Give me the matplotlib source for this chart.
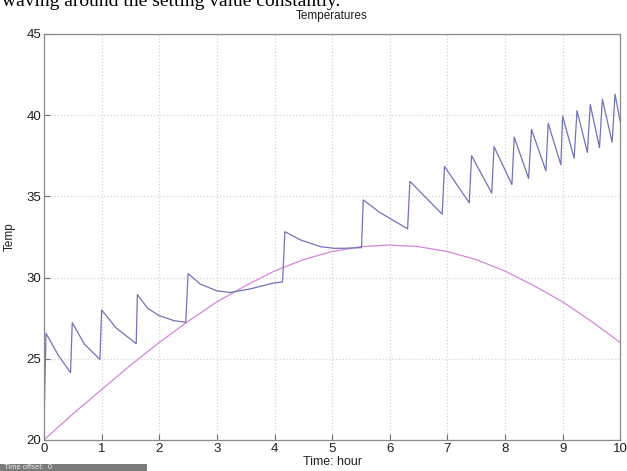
import matplotlib.pyplot as plt

t_meas = [0.0, 0.035, 0.25, 0.46, 0.49, 0.7, 0.97, 1.0, 1.25, 1.60, 1.62, 1.8, 2.0, 2.25, 2.46,
          2.50, 2.71, 3.0, 3.23, 3.57, 3.97, 4.14, 4.18, 4.46, 4.8, 5.03, 5.2, 5.51,
          5.54, 5.83, 6.31, 6.35, 6.91, 6.95, 7.38, 7.42, 7.77, 7.81, 8.12, 8.16,
          8.41, 8.46, 8.71, 8.75, 8.97, 9.0, 9.2, 9.25, 9.43, 9.48, 9.64, 9.69,
          9.86, 9.91, 10.0]
temp_meas = [21.05, 26.56, 25.2, 24.14, 27.22, 25.9, 24.96, 28.0, 26.9, 25.93, 28.95, 28.1, 27.65, 27.35, 27.24,
             30.24, 29.6, 29.18, 29.08, 29.29, 29.65, 29.73, 32.82, 32.3, 31.9, 31.8, 31.8, 31.84,
             34.78, 34.0, 33.0, 35.92, 33.9, 36.84, 34.6, 37.5, 35.2, 38.06, 35.72, 38.65,
             36.1, 39.12, 36.57, 39.5, 36.94, 39.94, 37.35, 40.27, 37.7, 40.65, 38.0, 40.98,
             38.33, 41.29, 39.6]

# setting value (pink)
t_set = [0, 0.5, 1, 1.5, 2, 2.5, 3, 3.5, 4, 4.5, 5, 5.5, 6, 6.5, 7, 7.5, 8, 8.5, 9, 9.5, 10]
temp_set = [20.0, 21.6, 23.1, 24.6, 26.0, 27.3, 28.5, 29.5, 30.4, 31.1, 31.6, 31.9, 32.0,
            31.9, 31.6, 31.1, 30.4, 29.5, 28.5, 27.3, 26.0]

xticks = [0, 1, 2, 3, 4, 5, 6, 7, 8, 9, 10]
yticks = [20, 25, 30, 35, 40, 45]

plt.rcParams['font.family'] = ['Liberation Sans Narrow', 'Liberation Sans', 'DejaVu Sans']

fig = plt.figure(figsize=(6.27, 4.71), dpi=100)
ax = fig.add_axes([0.0702, 0.066, 0.919, 0.862])

ax.plot(t_set, temp_set, color='#d685da', lw=0.9)
ax.plot(t_meas, temp_meas, color='#7272b8', lw=0.9)

ax.set_xlim(0, 10)
ax.set_ylim(20, 45)
ax.set_xticks(xticks)
ax.set_yticks(yticks)
ax.tick_params(direction='in', length=4, color='#707070', labelsize=9.5, pad=2, labelcolor='#202020')
ax.grid(True, color='#d4d4d4', linestyle=':', linewidth=0.9)
for s in ax.spines.values():
    s.set_color('#8a8a8a')
    s.set_linewidth(0.9)

ax.set_title('Temperatures', fontsize=8.5, pad=11, color='#202020')
ax.set_xlabel('Time: hour', fontsize=9, labelpad=1, color='#202020')
ax.set_ylabel('Temp', fontsize=8.5, labelpad=8, color='#202020')

# caption line of the surrounding document, cut off at the top
fig.text(0.003, 0.987, 'waving around the setting value constantly.', fontsize=14,
         family=['Liberation Serif', 'DejaVu Serif'], va='baseline', ha='left')

# "Time offset" strip at bottom left
fig.patches.append(plt.Rectangle((0, 0), 147 / 627, 7 / 471, transform=fig.transFigure,
                                 facecolor='#7a7a7a', edgecolor='none'))
fig.text(0.006, 0.001, 'Time offset:  0', fontsize=5.5, color='#e8e8e8', va='bottom')

fig.savefig('out.png', dpi=100)
